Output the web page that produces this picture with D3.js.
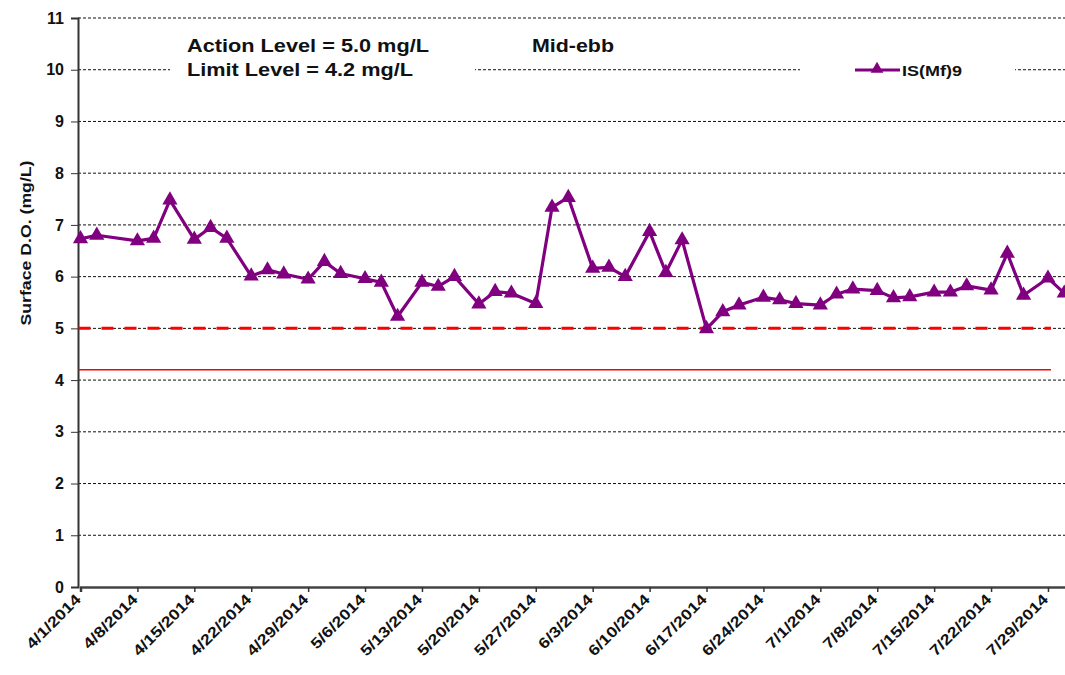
<!DOCTYPE html>
<html>
<head>
<meta charset="utf-8">
<script src="https://cdn.jsdelivr.net/npm/d3@7"></script>
<style>
  body { margin: 0; background: #fff; }
  svg { display: block; font-family: Arial, "Liberation Sans", sans-serif; }
  .ytick text { font-size: 16px; font-weight: bold; fill: #111; }
  .xtick text { font-size: 15px; font-weight: bold; fill: #111; }
</style>
</head>
<body>
<div id="chart"></div>
<script>
// sampling dates (Mid-ebb, IS(Mf)9)
const dates = [
  "2014-04-01", "2014-04-03", "2014-04-08", "2014-04-10", "2014-04-12",
  "2014-04-15", "2014-04-17", "2014-04-19", "2014-04-22", "2014-04-24",
  "2014-04-26", "2014-04-29", "2014-05-01", "2014-05-03", "2014-05-06",
  "2014-05-08", "2014-05-10", "2014-05-13", "2014-05-15", "2014-05-17",
  "2014-05-20", "2014-05-22", "2014-05-24", "2014-05-27", "2014-05-29",
  "2014-05-31", "2014-06-03", "2014-06-05", "2014-06-07", "2014-06-10",
  "2014-06-12", "2014-06-14", "2014-06-17", "2014-06-19", "2014-06-21",
  "2014-06-24", "2014-06-26", "2014-06-28", "2014-07-01", "2014-07-03",
  "2014-07-05", "2014-07-08", "2014-07-10", "2014-07-12", "2014-07-15",
  "2014-07-17", "2014-07-19", "2014-07-22", "2014-07-24", "2014-07-26",
  "2014-07-29", "2014-07-31"
]
const surfaceDO = [
  6.73, 6.80, 6.69, 6.74, 7.48,
  6.72, 6.95, 6.74, 6.01, 6.13,
  6.05, 5.95, 6.29, 6.06, 5.96,
  5.89, 5.23, 5.89, 5.81, 6.00,
  5.47, 5.71, 5.68, 5.48, 7.34,
  7.53, 6.16, 6.18, 6.00, 6.87,
  6.08, 6.71, 4.99, 5.32, 5.45,
  5.60, 5.55, 5.48, 5.45, 5.66,
  5.76, 5.73, 5.59, 5.61, 5.70,
  5.70, 5.82, 5.74, 6.45, 5.64,
  5.97, 5.68
]
const tickDates = [
  "2014-04-01", "2014-04-08", "2014-04-15", "2014-04-22", "2014-04-29",
  "2014-05-06", "2014-05-13", "2014-05-20", "2014-05-27", "2014-06-03",
  "2014-06-10", "2014-06-17", "2014-06-24", "2014-07-01", "2014-07-08",
  "2014-07-15", "2014-07-22", "2014-07-29"
]
const yTicks = [0, 1, 2, 3, 4, 5, 6, 7, 8, 9, 10, 11]
const actionLevel = 5.0
const limitLevel = 4.2
const levelSpan = ["2014-04-01", "2014-07-29"]
const seriesName = "IS(Mf)9"

const parse = d3.utcParse("%Y-%m-%d")
const fmt = d3.utcFormat("%-m/%-d/%Y")

const width = 1065
const height = 675
const margin = { top: 18, left: 80, bottom: 88 }

const svg = d3
  .select("#chart")
  .append("svg")
  .attr("width", width)
  .attr("height", height)

const x = d3
  .scaleUtc()
  .domain([parse("2014-04-01"), parse("2014-08-01")])
  .range([margin.left + 0.5, margin.left + 0.5 + 8.13 * 122])

const y = d3
  .scaleLinear()
  .domain([0, 11])
  .range([height - margin.bottom, margin.top])

const plotRight = width

// horizontal grid
svg
  .append("g")
  .selectAll("line")
  .data(yTicks.filter((d) => d > 0))
  .join("line")
  .attr("x1", margin.left - 2)
  .attr("x2", plotRight)
  .attr("y1", (d) => y(d))
  .attr("y2", (d) => y(d))
  .attr("stroke", "#111")
  .attr("stroke-width", 1)
  .attr("stroke-dasharray", "3,2")

// white boxes behind title text and legend
svg.append("rect").attr("x", 170).attr("y", 28).attr("width", 305).attr("height", 54).attr("fill", "#fff")
svg.append("rect").attr("x", 800).attr("y", 58).attr("width", 215).attr("height", 24).attr("fill", "#fff")

// y axis
const yAxis = svg
  .append("g")
  .attr("class", "ytick")
  .attr("transform", `translate(${margin.left - 2},0)`)
  .call(d3.axisLeft(y).tickValues(yTicks).tickSize(7).tickPadding(7).tickFormat(d3.format("d")))
yAxis.select(".domain").attr("stroke", "#333").attr("stroke-width", 2)
yAxis.selectAll(".tick line").attr("stroke", "#333")

// x axis
const xAxis = svg
  .append("g")
  .attr("class", "xtick")
  .attr("transform", `translate(0,${y(0)})`)
  .call(
    d3
      .axisBottom(x)
      .tickValues(tickDates.map(parse))
      .tickSize(5)
      .tickFormat(fmt)
  )
xAxis.select(".domain").attr("stroke", "#444").attr("stroke-width", 2.5)
xAxis.selectAll(".tick line").attr("stroke", "#333").attr("stroke-width", 1.5)
xAxis
  .selectAll(".tick text")
  .attr("text-anchor", "end")
  .attr("y", 0)
  .attr("dx", "-9")
  .attr("dy", "10")
  .attr("transform", "rotate(-45)")
  .each(function () {
    const w = this.getComputedTextLength()
    d3.select(this).attr("textLength", w * 1.2).attr("lengthAdjust", "spacingAndGlyphs")
  })

// action / limit levels
svg
  .append("line")
  .attr("x1", x(parse(levelSpan[0])) - 2)
  .attr("x2", x(parse(levelSpan[1])) + 3)
  .attr("y1", y(actionLevel))
  .attr("y2", y(actionLevel))
  .attr("stroke", "#ff0000")
  .attr("stroke-width", 3)
  .attr("stroke-dasharray", "12,11")
svg
  .append("line")
  .attr("x1", x(parse(levelSpan[0])) - 2)
  .attr("x2", x(parse(levelSpan[1])) + 3)
  .attr("y1", y(limitLevel))
  .attr("y2", y(limitLevel))
  .attr("stroke", "#ff0000")
  .attr("stroke-width", 1.5)

// series
const data = dates.map((d, i) => ({ date: parse(d), value: surfaceDO[i] }))
const purple = "#800080"

svg
  .append("path")
  .datum(data)
  .attr("fill", "none")
  .attr("stroke", purple)
  .attr("stroke-width", 3.2)
  .attr("stroke-linejoin", "round")
  .attr("d", d3.line().x((d) => x(d.date)).y((d) => y(d.value)))

const tri = d3.symbol().type(d3.symbolTriangle).size(100)
svg
  .append("g")
  .selectAll("path")
  .data(data)
  .join("path")
  .attr("d", tri)
  .attr("transform", (d) => `translate(${x(d.date)},${y(d.value)})`)
  .attr("fill", purple)

// y label
svg
  .append("text")
  .attr("transform", `translate(31,${243}) rotate(-90)`)
  .attr("text-anchor", "middle")
  .attr("font-size", 14)
  .attr("font-weight", "bold")
  .attr("fill", "#111")
  .attr("textLength", 165)
  .attr("lengthAdjust", "spacingAndGlyphs")
  .text("Surface D.O. (mg/L)")

// annotations
const note = (tx, ty, size, len, str) =>
  svg.append("text").attr("x", tx).attr("y", ty).attr("font-size", size).attr("font-weight", "bold")
    .attr("fill", "#111").attr("textLength", len).attr("lengthAdjust", "spacingAndGlyphs").text(str)
note(187, 52, 19, 242, `Action  Level = ${actionLevel.toFixed(1)}  mg/L`)
note(187, 76, 19, 226, `Limit Level = ${limitLevel.toFixed(1)} mg/L`)
note(532, 52, 18, 82, "Mid-ebb")

// legend
const lg = svg.append("g").attr("transform", "translate(855,70)")
lg.append("line").attr("x1", 0).attr("x2", 45).attr("stroke", purple).attr("stroke-width", 3)
lg.append("path").attr("d", d3.symbol().type(d3.symbolTriangle).size(70)).attr("transform", "translate(22,-1)").attr("fill", purple)
lg.append("text").attr("x", 47).attr("y", 6).attr("font-size", 15).attr("font-weight", "bold").attr("fill", "#111")
  .attr("textLength", 60).attr("lengthAdjust", "spacingAndGlyphs").text(seriesName)
</script>
</body>
</html>
